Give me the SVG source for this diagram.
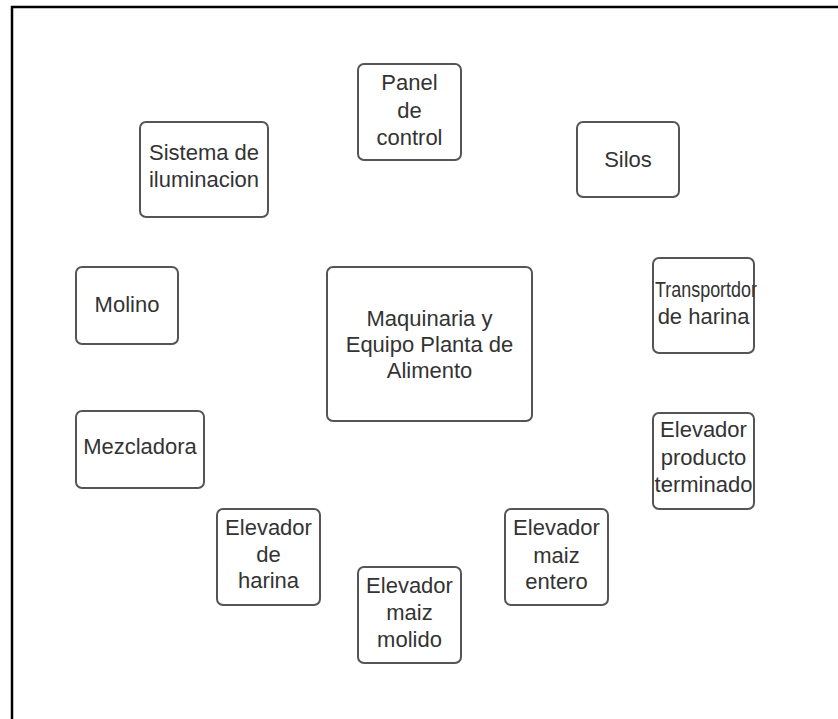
<svg xmlns="http://www.w3.org/2000/svg" width="838" height="719" viewBox="0 0 838 719">
<style>
.box{fill:#fff;stroke:#555;stroke-width:2}
.t{font-family:"Liberation Sans",Arial,sans-serif;font-size:22px;fill:#333;text-anchor:middle}
</style>
<rect width="838" height="719" fill="#fff"/>
<path d="M12 719 V7 H838" fill="none" stroke="#000" stroke-width="2.5"/>
<g id="connectors"></g>
<g id="panel"><rect class="box" x="358" y="64" width="103" height="96" rx="6"/>
<text class="t" x="409.5" y="90">Panel</text><text class="t" x="409.5" y="118">de</text><text class="t" x="409.5" y="145">control</text></g>
<g id="sistema"><rect class="box" x="140" y="122" width="128" height="95" rx="6"/>
<text class="t" x="204" y="160">Sistema de</text><text class="t" x="204" y="187">iluminacion</text></g>
<g id="silos"><rect class="box" x="577" y="122" width="102" height="75" rx="6"/>
<text class="t" x="628" y="167">Silos</text></g>
<g id="molino"><rect class="box" x="76" y="267" width="102" height="77" rx="6"/>
<text class="t" x="127" y="312">Molino</text></g>
<g id="central"><rect class="box" x="327" y="267" width="205" height="154" rx="6"/>
<text class="t" x="429.5" y="326">Maquinaria y</text><text class="t" x="429.5" y="352">Equipo Planta de</text><text class="t" x="429.5" y="378">Alimento</text></g>
<g id="transportdor"><rect class="box" x="653" y="258" width="101" height="95" rx="6"/>
<text class="t" x="706" y="297" textLength="102" lengthAdjust="spacingAndGlyphs">Transportdor</text><text class="t" x="703.5" y="324">de harina</text></g>
<g id="mezcladora"><rect class="box" x="76" y="411" width="128" height="77" rx="6"/>
<text class="t" x="140" y="454">Mezcladora</text></g>
<g id="elev-producto"><rect class="box" x="653" y="413" width="101" height="96" rx="6"/>
<text class="t" x="703.5" y="437">Elevador</text><text class="t" x="703.5" y="465">producto</text><text class="t" x="703.5" y="492">terminado</text></g>
<g id="elev-harina"><rect class="box" x="217" y="509" width="103" height="96" rx="6"/>
<text class="t" x="268.5" y="535">Elevador</text><text class="t" x="268.5" y="562">de</text><text class="t" x="268.5" y="588">harina</text></g>
<g id="elev-entero"><rect class="box" x="505" y="509" width="103" height="96" rx="6"/>
<text class="t" x="556.5" y="535">Elevador</text><text class="t" x="556.5" y="563">maiz</text><text class="t" x="556.5" y="589">entero</text></g>
<g id="elev-molido"><rect class="box" x="358" y="567" width="103" height="96" rx="6"/>
<text class="t" x="409.5" y="593">Elevador</text><text class="t" x="409.5" y="620">maiz</text><text class="t" x="409.5" y="647">molido</text></g>
</svg>
